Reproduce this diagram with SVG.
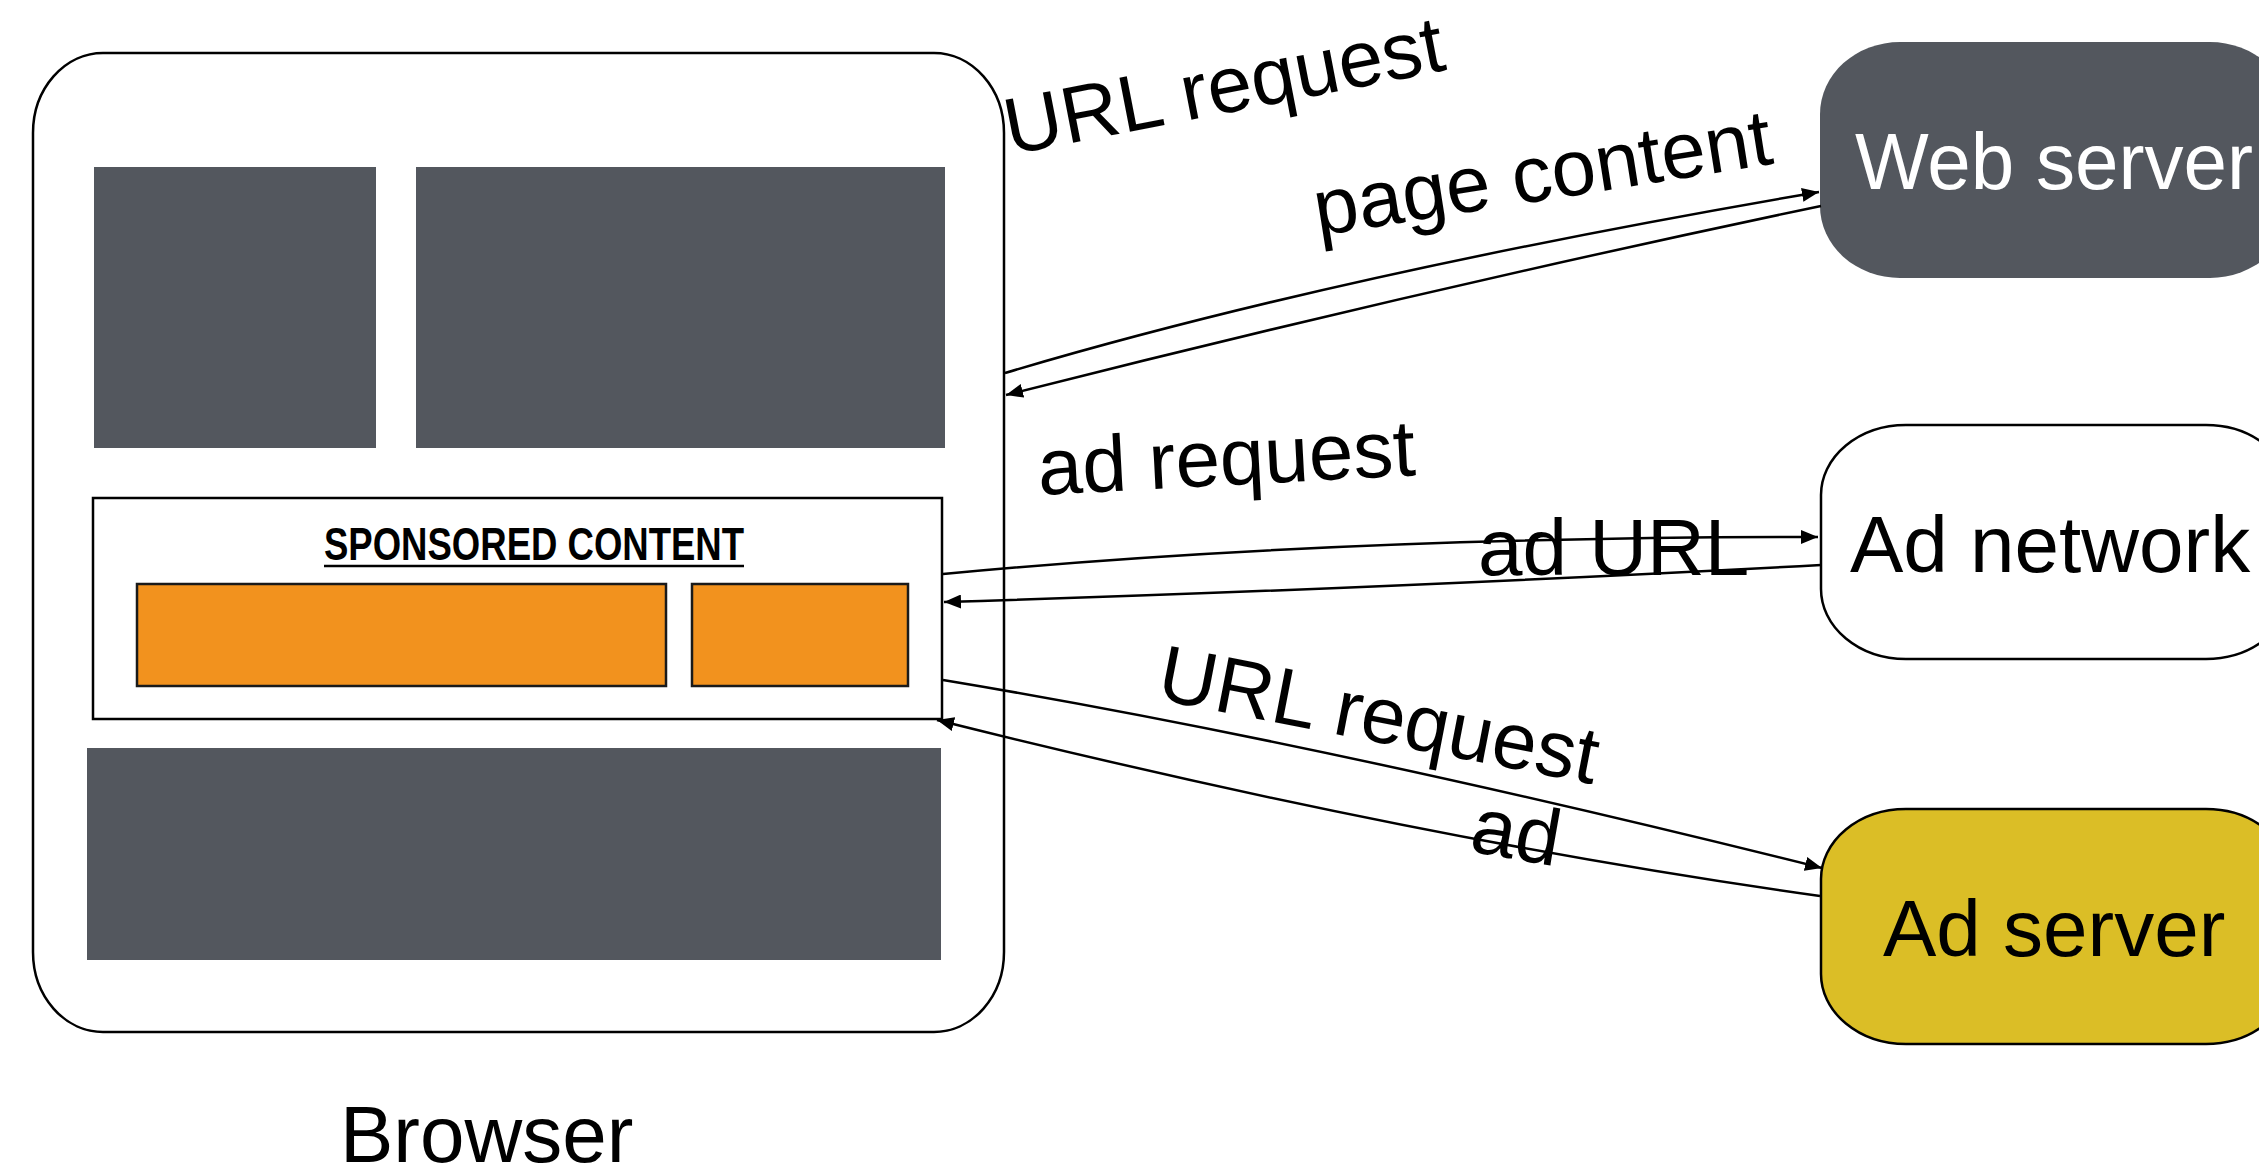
<svg xmlns="http://www.w3.org/2000/svg" width="2259" height="1174" viewBox="0 0 2259 1174">
  <style>
    .lbl { font-family: "Liberation Sans", Arial, Helvetica, sans-serif; font-size: 80px; fill: #000; }
    .panel { fill: #53575E; }
    .ad { fill: #F2921E; stroke: #1a1a1a; stroke-width: 2.5; }
    .edge { fill: none; stroke: #000; stroke-width: 2.5; marker-end: url(#arrow); }
    .frame { fill: #fff; stroke: #000; stroke-width: 2.5; }
  </style>
  <defs>
    <marker id="arrow" markerUnits="userSpaceOnUse" markerWidth="18" markerHeight="14" refX="17" refY="7" orient="auto">
      <path d="M0,0 L17,7 L0,14 z" fill="#000"/>
    </marker>
  </defs>

  <rect width="2259" height="1174" fill="#fff"/>

  <!-- Browser window with page blocks -->
  <g id="browser">
    <rect class="frame" x="33" y="53" width="971" height="979" rx="70" ry="80"/>
    <rect class="panel" x="94" y="167" width="282" height="281"/>
    <rect class="panel" x="416" y="167" width="529" height="281"/>
    <g id="sponsored">
      <rect class="frame" x="93" y="498" width="849" height="221"/>
      <text x="324" y="560" font-family="'Liberation Sans', Arial, sans-serif" font-weight="bold" font-size="46" textLength="420" lengthAdjust="spacingAndGlyphs">SPONSORED CONTENT</text>
      <line x1="324" y1="566" x2="744" y2="566" stroke="#000" stroke-width="2.5"/>
      <rect class="ad" x="137" y="584" width="529" height="102"/>
      <rect class="ad" x="692" y="584" width="216" height="102"/>
    </g>
    <rect class="panel" x="87" y="748" width="854" height="212"/>
    <text class="lbl" x="340" y="1162" font-size="78">Browser</text>
  </g>

  <!-- Servers -->
  <g id="web-server">
    <rect x="1820" y="42" width="470" height="236" rx="80" ry="72" fill="#53575E"/>
    <text class="lbl" x="1855" y="189" style="fill:#fff" textLength="398" lengthAdjust="spacingAndGlyphs">Web server</text>
  </g>
  <g id="ad-network">
    <rect x="1821" y="425" width="470" height="234" rx="85" ry="70" fill="#fff" stroke="#000" stroke-width="2.5"/>
    <text class="lbl" x="1850" y="572">Ad network</text>
  </g>
  <g id="ad-server">
    <rect x="1821" y="809" width="470" height="235" rx="85" ry="70" fill="#DBBE26" stroke="#000" stroke-width="2.5"/>
    <text class="lbl" x="1883" y="956">Ad server</text>
  </g>

  <!-- Requests and responses -->
  <g id="connectors">
    <path class="edge" d="M1005,373 Q1333,275 1819,192"/>
    <path class="edge" d="M1821,206 Q1420,290 1006,395"/>
    <path class="edge" d="M943,574 Q1330,537 1818,537"/>
    <path class="edge" d="M1821,565 Q1350,590 944,602"/>
    <path class="edge" d="M943,680 Q1322,743 1822,868"/>
    <path class="edge" d="M1820,896 Q1413,839 937,720"/>
  </g>

  <g id="edge-labels">
    <text class="lbl" x="1010" y="155" transform="rotate(-11 1010 155)">URL request</text>
    <text class="lbl" x="1318" y="236" transform="rotate(-9 1318 236)">page content</text>
    <text class="lbl" x="1039" y="495" transform="rotate(-3 1039 495)">ad request</text>
    <text class="lbl" x="1478" y="575">ad URL</text>
    <text class="lbl" x="1155" y="699" transform="rotate(11 1155 699)">URL request</text>
    <text class="lbl" x="1468" y="851" transform="rotate(10 1468 851)">ad</text>
  </g>
</svg>
